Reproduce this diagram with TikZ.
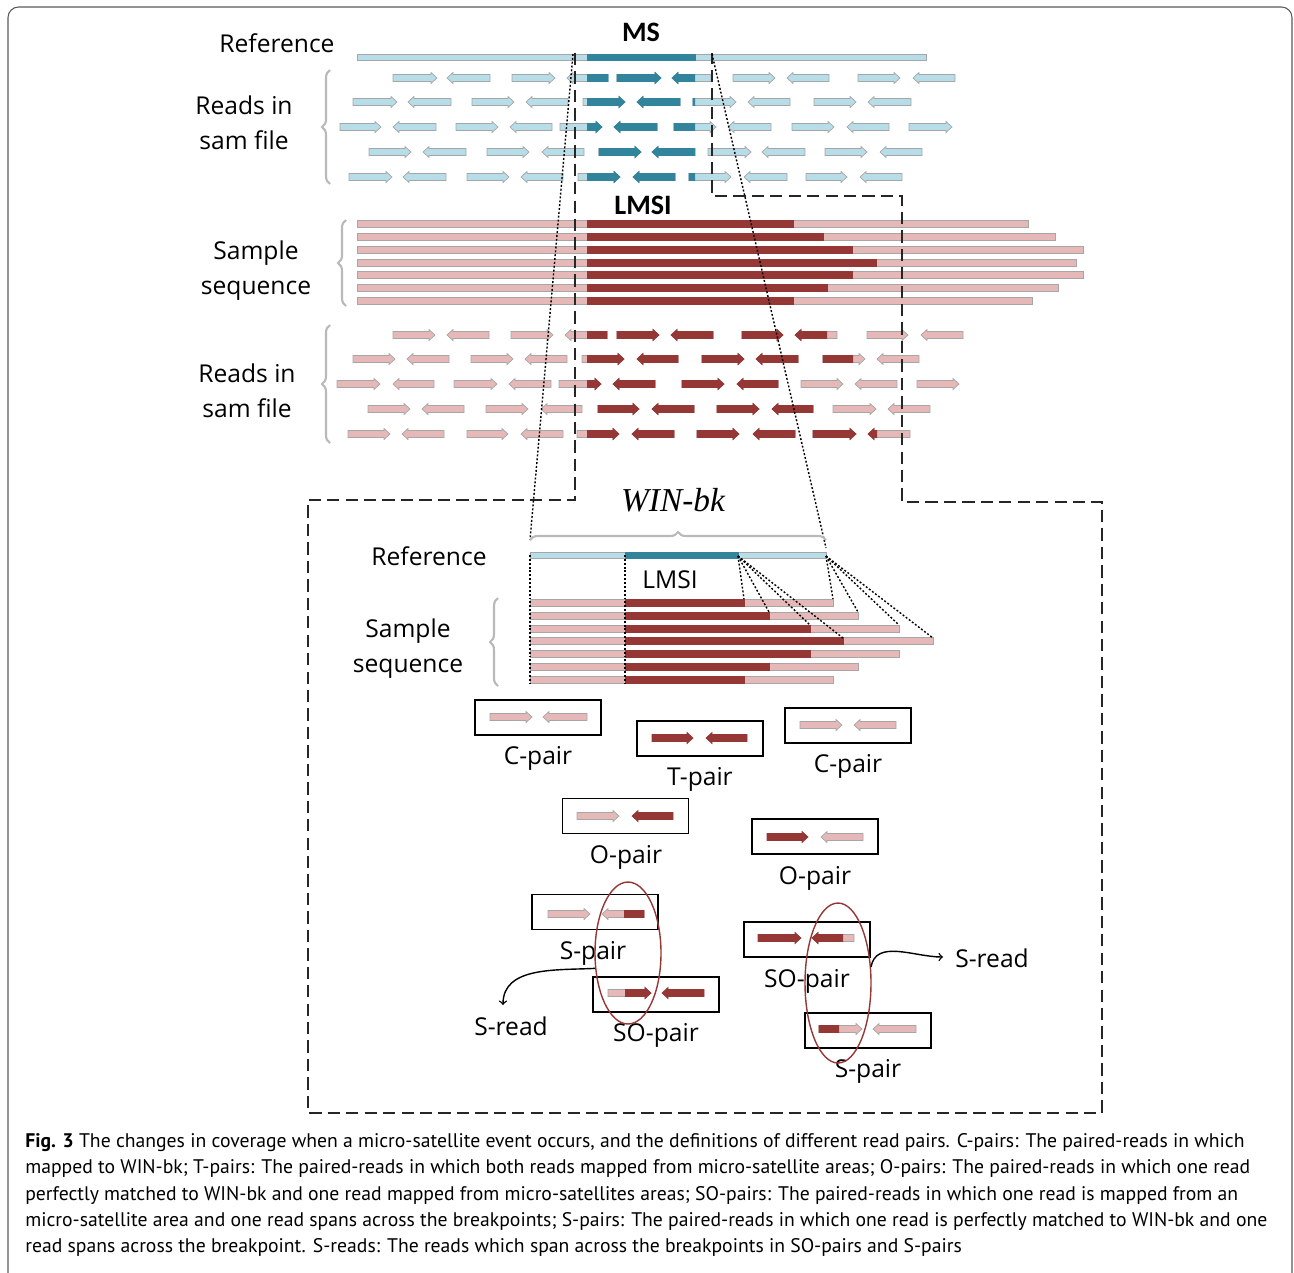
\documentclass[tikz,border=0pt]{standalone}
\usepackage{fontspec}
\setmainfont{Open Sans}
\newfontfamily\capfont{PT Sans}
\newfontfamily\headfont{Carlito}
\newfontfamily\winfont{Liberation Serif}
\usetikzlibrary{shapes.geometric,decorations.pathreplacing}
\definecolor{bluelt}{HTML}{B7DEE8}
\definecolor{bluedk}{HTML}{31849B}
\definecolor{pinklt}{HTML}{E6B9B8}
\definecolor{pinkdk}{HTML}{953735}
\definecolor{edgec}{HTML}{A6A6A6}
\tikzset{
  blt/.style={fill=bluelt, draw=edgec, line width=0.4pt},
  bdk/.style={fill=bluedk, draw=bluedk, line width=0.4pt},
  plt/.style={fill=pinklt, draw=edgec, line width=0.4pt},
  pdk/.style={fill=pinkdk, draw=pinkdk, line width=0.4pt},
  lbl/.style={font=\fontsize{14}{20}\selectfont, align=center, inner sep=1pt},
  hdlbl/.style={font=\headfont\bfseries\fontsize{16}{18}\selectfont, inner sep=1pt},
  pairbox/.style={draw, line width=1.1pt, minimum width=2.52cm, minimum height=0.7cm, inner sep=0pt},
  oval/.style={ellipse, draw=pinkdk, line width=0.8pt, inner sep=0pt, minimum width=1.32cm},
  zoomline/.style={draw=black!85, line width=1.1pt, dash pattern=on 7pt off 3.5pt},
  dotline/.style={line width=0.8pt, dash pattern=on 1.1pt off 1.1pt},
  gbrace/.style={decorate, decoration={brace, amplitude=0.16cm}, draw=gray!55, line width=1.2pt},
}
% one read: y, tail x, tip x, style
\newcommand{\rd}[4]{%
  \pgfmathsetmacro{\hx}{#3-6*sign(#3-#2)}
  \path[#4] (#2,#1-3.5) -- (\hx,#1-3.5) -- (\hx,#1-5.5) -- (#3,#1) -- (\hx,#1+5.5) -- (\hx,#1+3.5) -- (#2,#1+3.5) -- cycle;}
% read that is dark between #6 and #7
\newcommand{\twotone}[7]{%
  \rd{#1}{#2}{#3}{#4}
  \begin{scope}\clip (#6,#1-8) rectangle (#7,#1+8); \rd{#1}{#2}{#3}{#5}\end{scope}}

\begin{document}
\begin{tikzpicture}[x=0.02cm, y=-0.02cm]
\useasboundingbox (0,0) rectangle (1294,1272);
\draw[gray!70!black, line width=0.6pt, rounded corners=6pt] (8,7) rectangle (1292,1300);

% top part: reference and reads
\node[lbl] (ttlRef) at (277,43) {Reference};
\node[hdlbl] (ttlMS) at (641,32) {MS};
\path[blt] (357,54) rectangle (926,60);
\path[bdk] (587,54) rectangle (695,60);
\node[lbl] (lblReadsA) at (244,123) {Reads in\\sam file};
\draw[gbrace] (330,184) -- (330,70);
\foreach \t/\h in {393/437, 490/447, 512/555, 608/567, 617/661, 711/672, 733/775, 829/787, 858/900, 955/913}
  {\twotone{78}{\t}{\h}{blt}{bdk}{587}{695}}
\foreach \t/\h in {353/397, 451/408, 472/514, 568/526, 583/625, 680/637, 693/736, 790/748, 814/856, 911/868}
  {\twotone{102}{\t}{\h}{blt}{bdk}{587}{695}}
\foreach \t/\h in {340/381, 436/393, 456/498, 552/510, 560/602, 657/614, 674/716, 771/728, 792/834, 889/847, 909/952}
  {\twotone{127}{\t}{\h}{blt}{bdk}{587}{695}}
\foreach \t/\h in {369/411, 466/423, 487/529, 584/542, 599/641, 695/652, 708/751, 805/762, 825/867, 922/880}
  {\twotone{152}{\t}{\h}{blt}{bdk}{587}{695}}
\foreach \t/\h in {349/392, 446/403, 467/509, 563/521, 578/620, 675/633, 689/731, 787/744, 806/847, 902/860}
  {\twotone{177}{\t}{\h}{blt}{bdk}{587}{695}}

% sample sequence
\node[hdlbl] (ttlLMSI) at (643,205) {LMSI};
\node[lbl] (lblSample) at (256,271) {Sample\\sequence};
\draw[gbrace] (346,306) -- (346,220);
\foreach \yy/\dk/\en in {224/793/1028, 237/823/1055, 250/852/1083, 263/876/1076, 275/852/1083, 288/827/1058, 301/793/1032} {
  \path[plt] (357,\yy-3.4) rectangle (\en,\yy+3.4);
  \path[pdk] (587,\yy-3.4) rectangle (\dk,\yy+3.4);
}

% reads of the sample
\node[lbl] (lblReadsB) at (247,391) {Reads in\\sam file};
\draw[gbrace] (330,443) -- (330,325);
\foreach \t/\h in {393/435, 489/447, 511/553, 607/565, 617/659, 713/671, 742/783, 837/795, 867/908, 963/921}
  {\twotone{335}{\t}{\h}{plt}{pdk}{587}{827}}
\foreach \t/\h in {353/395, 449/407, 471/513, 567/525, 582/624, 678/637, 702/744, 798/756, 823/865, 919/877}
  {\twotone{359}{\t}{\h}{plt}{pdk}{587}{853}}
\foreach \t/\h in {337/380, 434/393, 454/497, 551/509, 559/601, 655/613, 682/724, 778/737, 801/843, 897/855, 917/959}
  {\twotone{384}{\t}{\h}{plt}{pdk}{587}{790}}
\foreach \t/\h in {368/410, 464/422, 486/528, 582/541, 598/639, 694/652, 717/759, 813/772, 833/876, 930/888}
  {\twotone{409}{\t}{\h}{plt}{pdk}{587}{822}}
\foreach \t/\h in {348/390, 444/402, 467/508, 563/521, 577/619, 674/632, 697/739, 795/753, 813/856, 910/868}
  {\twotone{434}{\t}{\h}{plt}{pdk}{587}{877}}

% zoom frame
\draw[zoomline] (575,53) -- (575,500) -- (308,500) -- (308,1113) -- (1102,1113) -- (1102,502) -- (902,502) -- (902,196) -- (712,196) -- (712,53);
\draw[dotline] (573,54) -- (530,540);
\draw[dotline] (712,54) -- (826,548);

% window around the breakpoint
\node[font=\winfont\itshape\fontsize{19}{22}\selectfont, inner sep=1pt] (ttlWin) at (673,500) {WIN-bk};
\draw[gbrace] (530,540) -- (826,540);
\node[lbl] (lblRef2) at (429,556) {Reference};
\path[blt] (530,552) rectangle (826,558);
\path[bdk] (625,552) rectangle (738,558);
\node[lbl] (lblLMSI2) at (670,580) {LMSI};
\node[lbl] (lblSample2) at (408,649) {Sample\\sequence};
\draw[gbrace] (498,686) -- (498,598);
\foreach \yy/\dk/\en in {603/744/833, 616/769/858, 629/810/899, 641/843/933, 654/810/899, 667/769/858, 680/744/833} {
  \path[plt] (530,\yy-3.4) rectangle (\en,\yy+3.4);
  \path[pdk] (625,\yy-3.4) rectangle (\dk,\yy+3.4);
}
\draw[dotline] (530,555) -- (530,684);
\draw[dotline] (625,555) -- (625,684);
\foreach \a/\b in {744/599, 769/612, 810/625, 843/638} \draw[dotline] (738,556) -- (\a,\b);
\foreach \a/\b in {833/599, 858/612, 899/625, 933/638} \draw[dotline] (826,556) -- (\a,\b);

% read pairs
\node[pairbox] (cpA) at (538,717.5) {};
\rd{717}{490}{532}{plt} \rd{717}{587}{543}{plt}
\node[lbl] (cpAl) at (538,758) {C-pair};
\node[pairbox] (tp) at (700,738.5) {};
\rd{738}{652}{693}{pdk} \rd{738}{747}{706}{pdk}
\node[lbl] (tpl) at (700,779) {T-pair};
\node[pairbox] (cpB) at (848,725.5) {};
\rd{725}{800}{842}{plt} \rd{725}{896}{854}{plt}
\node[lbl] (cpBl) at (848,766) {C-pair};
\node[pairbox] (opA) at (625.5,816) {};
\rd{816}{577}{619}{plt} \rd{816}{673}{632}{pdk}
\node[lbl] (opAl) at (626,857) {O-pair};
\node[pairbox] (opB) at (815,836.5) {};
\rd{837}{767}{808}{pdk} \rd{837}{863}{821}{plt}
\node[lbl] (opBl) at (815,878) {O-pair};

\node[pairbox] (spA) at (595,912) {};
\rd{914}{548}{590}{plt} \twotone{914}{644}{602}{plt}{pdk}{624}{650}
\node[lbl] (spAl) at (593,953) {S-pair};
\node[pairbox] (sopA) at (656,994.5) {};
\twotone{993}{608}{651}{plt}{pdk}{625}{655} \rd{993}{704}{662}{pdk}
\node[lbl] (sopAl) at (656,1035) {SO-pair};
\node[pairbox] (sopB) at (807,939.5) {};
\rd{938}{758}{801}{pdk} \twotone{938}{854}{812}{plt}{pdk}{805}{843}
\node[lbl] (sopBl) at (807,981) {SO-pair};
\node[pairbox] (spB) at (868,1030.5) {};
\twotone{1029}{819}{862}{plt}{pdk}{815}{839} \rd{1029}{916}{873}{plt}
\node[lbl] (spBl) at (868,1071) {S-pair};

% split reads
\node[oval, minimum height=2.84cm] (ovA) at (628,953) {};
\node[oval, minimum height=3.2cm] (ovB) at (838,983) {};
\node[lbl] (srA) at (511,1026) {S-read};
\node[lbl] (srB) at (992,958) {S-read};
\coordinate (srAtip) at (503,1005);
\coordinate (srBtip) at (943,957);
\draw[->, line width=0.8pt] (ovA.205) to[out=183, in=90] (srAtip);
\draw[->, line width=0.8pt] (ovB.26) to[out=80, in=180] (srBtip);

% caption
\node[anchor=north west, align=left, inner sep=0pt, font=\capfont\fontsize{11.2}{15}\selectfont] (capt) at (25,1133)
  {\textbf{Fig. 3} The changes in coverage when a micro-satellite event occurs, and the definitions of different read pairs. C-pairs: The paired-reads in which\\
   mapped to WIN-bk; T-pairs: The paired-reads in which both reads mapped from micro-satellite areas; O-pairs: The paired-reads in which one read\\
   perfectly matched to WIN-bk and one read mapped from micro-satellites areas; SO-pairs: The paired-reads in which one read is mapped from an\\
   micro-satellite area and one read spans across the breakpoints; S-pairs: The paired-reads in which one read is perfectly matched to WIN-bk and one\\
   read spans across the breakpoint. S-reads: The reads which span across the breakpoints in SO-pairs and S-pairs};
\end{tikzpicture}
\end{document}
